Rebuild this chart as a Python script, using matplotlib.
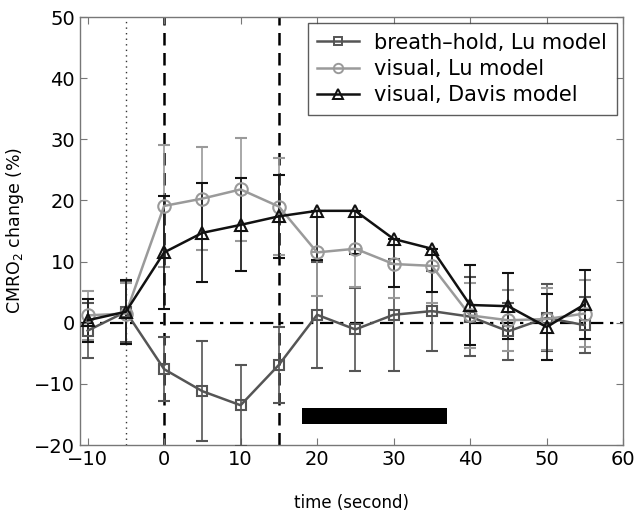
import matplotlib
matplotlib.use('Agg')
import matplotlib.pyplot as plt
from matplotlib.lines import Line2D
import numpy as np

plt.rcParams['font.family'] = ['DejaVu Sans']

# ── data ──────────────────────────────────────────────────────────────────
t = [-10, -5, 0, 5, 10, 15, 20, 25, 30, 35, 40, 45, 50, 55]

bh_lu     = [-1.3, 1.8, -7.6, -11.2, -13.5, -6.9, 1.3, -1.1, 1.3, 1.9, 1.0, -1.4, 0.8, -0.4]
bh_lu_err = [4.5, 5.0, 5.2, 8.2, 6.6, 6.2, 8.7, 6.8, 9.2, 6.5, 6.4, 4.7, 5.5, 4.6]

vis_lu        = [1.2, 1.5, 19.1, 20.3, 21.8, 19.0, 11.5, 12.1, 9.6, 9.3, 1.2, 0.4, 0.6, 1.5]
vis_lu_lo     = [4.0, 5.0, 10.0, 8.4, 8.4, 8.0, 7.2, 6.3, 5.6, 6.0, 5.3, 5.0, 5.0, 5.5]
vis_lu_hi     = [4.0, 5.0, 10.0, 8.4, 8.4, 8.0, 0.0, 0.0, 0.0, 0.0, 5.3, 5.0, 5.0, 5.5]

vis_davis     = [0.4, 1.8, 11.5, 14.7, 16.0, 17.4, 18.3, 18.3, 13.7, 12.1, 2.9, 2.7, -0.7, 3.0]
vis_davis_lo  = [3.5, 5.2, 9.3, 8.1, 7.6, 6.8, 8.0, 7.0, 7.8, 7.0, 6.6, 5.4, 5.4, 5.6]
vis_davis_hi  = [3.5, 5.2, 9.3, 8.1, 7.6, 6.8, 0.0, 0.0, 0.0, 0.0, 6.6, 5.4, 5.4, 5.6]

labels = ['breath\u2013hold, Lu model', 'visual, Lu model', 'visual, Davis model']
task_block = (18, 37, -16.6, -13.9)   # x0, x1, y0, y1 of the black bar

fig = plt.figure(figsize=(6.36, 5.11), dpi=100)
ax = fig.add_axes([80 / 636, 1 - 445 / 511, 543 / 636, 428 / 511])

# reference lines
ax.axvline(-5, color='#333333', ls=(0, (1, 3)), lw=1.0, zorder=1)
ax.axvline(0, color='black', ls=(0, (5, 3)), lw=1.8, zorder=1)
ax.axvline(15, color='black', ls=(0, (5, 3)), lw=1.8, zorder=1)
ax.axhline(0, color='black', ls=(0, (6, 3, 1.5, 3)), lw=1.6, zorder=1)

series = [
    (bh_lu, [bh_lu_err, bh_lu_err], '#555555', 's', 7),
    (vis_lu, [vis_lu_lo, vis_lu_hi], '#9a9a9a', 'o', 9),
    (vis_davis, [vis_davis_lo, vis_davis_hi], '#111111', '^', 9),
]
handles = []
for (y, e, c, m, ms), lab in zip(series, labels):
    ax.errorbar(t, y, yerr=e, color=c, lw=1.8, marker=m, ms=ms, mfc='none',
                mec=c, mew=1.5, ecolor=c, elinewidth=1.2, capsize=4, capthick=1.2,
                zorder=3)
    handles.append(Line2D([], [], color=c, lw=1.8, marker=m, ms=ms * 0.75,
                          mfc='none', mec=c, mew=1.4, label=lab))

x0, x1, y0, y1 = task_block
ax.fill_between([x0, x1], y0, y1, color='black', lw=0, zorder=2)

ax.set_xlim(-11, 60)
ax.set_ylim(-20, 50)
ax.set_xticks(np.arange(-10, 61, 10))
ax.set_yticks(np.arange(-20, 51, 10))
ax.tick_params(direction='in', top=True, right=True, length=5, width=0.8,
               colors='#777777', labelcolor='black', labelsize=14)
for s in ax.spines.values():
    s.set_color('#777777')
    s.set_linewidth(1.0)

ax.set_xlabel('time (second)', fontsize=12, labelpad=18)
ax.set_ylabel('CMRO$_2$ change (%)', fontsize=12.5, labelpad=6)

leg = ax.legend(handles=handles, loc='upper right', fontsize=15, frameon=True,
                fancybox=False, edgecolor='#333333', handlelength=2.0,
                borderaxespad=0.3, borderpad=0.45, labelspacing=0.3,
                handletextpad=0.75)
leg.get_frame().set_linewidth(1.0)

fig.savefig('out.png', dpi=100)
